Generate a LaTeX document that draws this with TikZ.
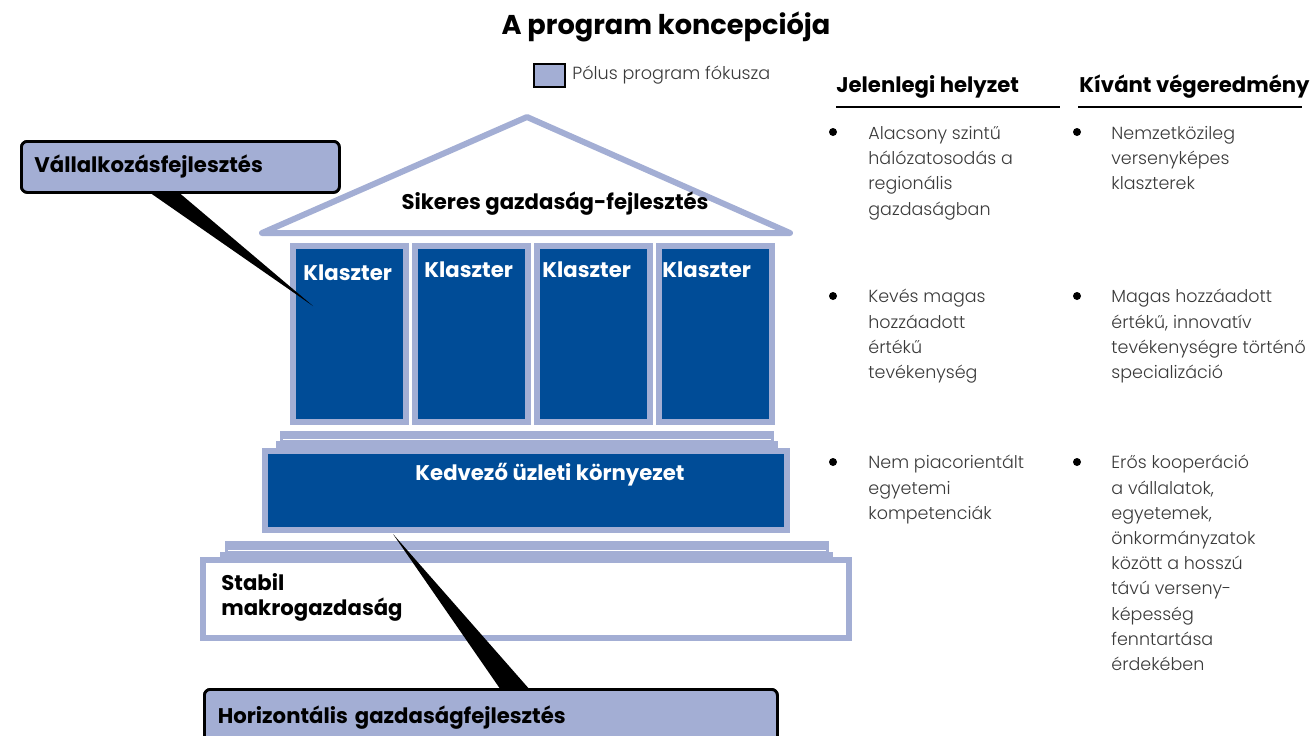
\documentclass[tikz,border=0pt]{standalone}
\usepackage{fontspec}
\setmainfont{Poppins}
\newfontfamily\bodyfont{Poppins Light}
\usetikzlibrary{calc}
\usetikzlibrary{positioning}
\definecolor{lightBlue}{HTML}{A3AED4}
\definecolor{darkBlue}{HTML}{004C97}
\definecolor{bodyGray}{HTML}{3A3A3A}
\tikzset{
  pillarBox/.style={%
    draw=lightBlue, fill=darkBlue, line width=3pt,
  },
  slabBar/.style={%
    fill=lightBlue,
  },
  calloutBox/.style={%
    draw=black, fill=lightBlue, line width=1.4pt, rounded corners=3pt,
    font=\bfseries\fontsize{10.6}{12}\selectfont, align=left,
    inner xsep=6pt, anchor=north west,
  },
  boldText/.style={%
    font=\bfseries\fontsize{10.6}{12.5}\selectfont, inner sep=0pt,
  },
  whiteText/.style={%
    boldText, text=white,
  },
  bulletText/.style={%
    font=\bodyfont\fontsize{8.75}{12.6}\selectfont, text=bodyGray,
    anchor=north west, align=left, inner sep=0pt,
  },
  bulletDot/.style={%
    fill=black,
  }
}

\begin{document}
\begin{tikzpicture}[x=0.5pt,y=-0.5pt]

          \useasboundingbox (0,0) rectangle (1312,735);
          \clip (0,0) rectangle (1312,735);

          \node[font=\bfseries\fontsize{13.6}{15}\selectfont] (title) at (666,27) {A program koncepciója};

          % legend
          \draw[fill=lightBlue, line width=1.4pt] (534,64) rectangle (565,87);
          \node[font=\bodyfont\fontsize{8.8}{11}\selectfont, text=bodyGray, anchor=west, inner sep=0pt] (legend) at (572,75) {Pólus program fókusza};

          % roof
          \draw[lightBlue, line width=3pt, line join=round] (262,233) -- (527,117) -- (790,233) -- cycle;
          \node[boldText] (roof) at (555,204) {Sikeres gazdaság-fejlesztés};

          % pillars
          \foreach \i in {0,...,3} {
            \draw[pillarBox] ({293+\i*122},246) rectangle ({406+\i*122},422);
          }
          \node[whiteText, anchor=west] (klaszter1) at (303,273) {Klaszter};
          \node[whiteText, anchor=west] (klaszter2) at (424,270) {Klaszter};
          \node[whiteText, anchor=west] (klaszter3) at (542,270) {Klaszter};
          \node[whiteText, anchor=west] (klaszter4) at (662,270) {Klaszter};

          % upper steps
          \fill[slabBar] (280,431) rectangle (774,441);
          \draw[white, line width=0.5pt] (283,439) -- (771,439);
          \fill[slabBar] (276,441) rectangle (778,449);
          \draw[pillarBox] (265,451) rectangle (787,530);
          \node[whiteText] (kedvezo) at (550,475) {Kedvező üzleti környezet};

          % lower steps
          \fill[slabBar] (225,541) rectangle (829,552);
          \draw[white, line width=0.5pt] (228,550) -- (826,550);
          \fill[slabBar] (220,552) rectangle (833,559);
          \draw[draw=lightBlue, fill=white, line width=3pt] (203,560) rectangle (849,638);
          \node[boldText, anchor=west, align=left] (stabil) at (221,597) {Stabil\\makrogazdaság};

          % callouts
          \coordinate (vallTip) at (313,306);
          \coordinate (horizTip) at (393,534);
          \node[calloutBox, minimum width=159pt, minimum height=25.5pt, text width=146pt] (vall) at (20,140) {Vállalkozásfejlesztés};
          \node[calloutBox, minimum width=286.5pt, minimum height=28pt, text width=273pt] (horiz) at (203,688) {Horizontális gazdaságfejlesztés};
          \fill[line join=round]
            ($(vall.south west)!0.41!(vall.south east)$) -- ($(vall.south west)!0.5!(vall.south east)$) -- (vallTip) -- cycle
            ($(horiz.north west)!0.515!(horiz.north east)$) -- ($(horiz.north west)!0.565!(horiz.north east)$) -- (horizTip) -- cycle
            ;
          \node[calloutBox, minimum width=159pt, minimum height=25.5pt, text width=146pt] at (vall.north west) {Vállalkozásfejlesztés};
          \node[calloutBox, minimum width=286.5pt, minimum height=28pt, text width=273pt] at (horiz.north west) {Horizontális gazdaságfejlesztés};

          % headings
          \node[boldText, anchor=west] (jelen) at (836,87) {Jelenlegi helyzet};
          \node[boldText, anchor=west] (kivant) at (1079,87) {Kívánt végeredmény};
          \draw[line width=1pt] (836,107) -- (1060,107);
          \draw[line width=1pt] (1078,107) -- (1302,107);

          % bullets
          \foreach \x/\y in {833/132, 833/296, 833/462, 1077/132, 1077/296, 1077/462} {
            \fill[bulletDot] (\x,\y) circle[radius=2pt];
          }
          \node[bulletText] (cur1) at (868,126) {Alacsony szintű\\hálózatosodás a\\regionális\\gazdaságban};
          \node[bulletText] (cur2) at (868,289) {Kevés magas\\hozzáadott\\értékű\\tevékenység};
          \node[bulletText] (cur3) at (868,455) {Nem piacorientált\\egyetemi\\kompetenciák};
          \node[bulletText] (goal1) at (1111,126) {Nemzetközileg\\versenyképes\\klaszterek};
          \node[bulletText] (goal2) at (1111,289) {Magas hozzáadott\\értékű, innovatív\\tevékenységre történő\\specializáció};
          \node[bulletText] (goal3) at (1111,455) {Erős kooperáció\\a vállalatok,\\egyetemek,\\önkormányzatok\\között a hosszú\\távú verseny-\\képesség\\fenntartása\\érdekében};

        \end{tikzpicture}
\end{document}
